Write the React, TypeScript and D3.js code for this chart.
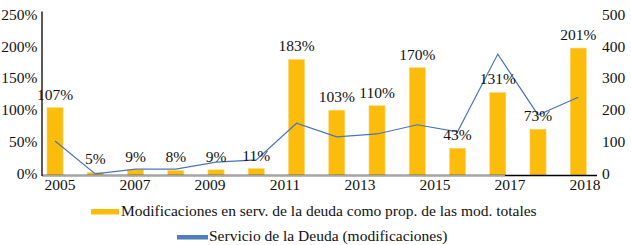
import React from "react";
import * as d3 from "d3";

const years = ["2005","2006","2007","2008","2009","2010","2011","2012","2013","2014","2015","2016","2017","2018"];
const barValues = [107, 5, 9, 8, 9, 11, 183, 103, 110, 170, 43, 131, 73, 201];
const lineValues = [109, 5, 20, 20, 42, 49, 165, 122, 131, 160, 138, 383, 191, 247];
const xTickLabels = ["2005","2007","2009","2011","2013","2015","2017","2018"];
const leftTicks = [0, 50, 100, 150, 200, 250];
const rightTicks = [0, 100, 200, 300, 400, 500];
const barLegend = "Modificaciones en serv. de la deuda como prop. de las mod. totales";
const lineLegend = "Servicio de la Deuda (modificaciones)";

const W = 631, H = 245;
const FONT = "Liberation Serif, serif";
const FS = 15.5;
const BAR = "#FBBC0B";
const LINE = "#4A74B8";

export default function App() {
  const x = d3.scaleBand<string>().domain(years).range([34.9, 598.4]).paddingInner(0.6).paddingOuter(0.3);
  const yL = d3.scaleLinear().domain([0, 250]).range([175.5, 17]);
  const yR = d3.scaleLinear().domain([0, 500]).range([175.5, 17]);
  const xLab = d3.scalePoint<string>().domain(xTickLabels).range([60, 585]);
  const cx = (y: string) => (x(y) as number) + x.bandwidth() / 2;
  const line = d3.line<number>().x((_, i) => cx(years[i])).y(d => yR(d));

  return (
    <svg width={W} height={H} style={{ position: "absolute", left: 0, top: 0, background: "#fff", fontFamily: FONT }}>
      {years.map((yr, i) => (
        <rect key={yr} x={x(yr)} y={yL(barValues[i])} width={x.bandwidth()} height={yL(0) - yL(barValues[i])} fill={BAR} stroke="#FDD77A" strokeWidth={0.6} />
      ))}
      <line x1={42} x2={597} y1={175.5} y2={175.5} stroke="#000" strokeWidth={1.3} />
      <line x1={42} x2={505} y1={175.5} y2={175.5} stroke="#A6A6A6" strokeWidth={1.3} />
      <line x1={42} x2={42} y1={11.5} y2={176} stroke="#000" strokeWidth={1.3} />
      <path d={line(lineValues) || ""} fill="none" stroke={LINE} strokeWidth={1.2} />
      {years.map((yr, i) => (
        <text key={"l" + yr} x={cx(yr)} y={yL(barValues[i]) - 8} textAnchor="middle" fontSize={FS} fill="#111">{barValues[i]}%</text>
      ))}
      {leftTicks.map(t => (
        <text key={"yl" + t} x={37.5} y={yL(t) + 3} textAnchor="end" fontSize={FS} fill="#111">{t}%</text>
      ))}
      {rightTicks.map(t => (
        <text key={"yr" + t} x={602} y={yR(t) + 3} textAnchor="start" fontSize={FS} fill="#111">{t}</text>
      ))}
      {xTickLabels.map(t => (
        <text key={"x" + t} x={xLab(t)} y={190} textAnchor="middle" fontSize={FS} fill="#111">{t}</text>
      ))}
      <rect x={91} y={209} width={28} height={5.5} fill={BAR} />
      <text x={121} y={216} fontSize={FS} fill="#111">{barLegend}</text>
      <rect x={177} y={235} width={31} height={4.5} fill="#4F7EBD" />
      <text x={209} y={241} fontSize={FS} fill="#111">{lineLegend}</text>
    </svg>
  );
}
